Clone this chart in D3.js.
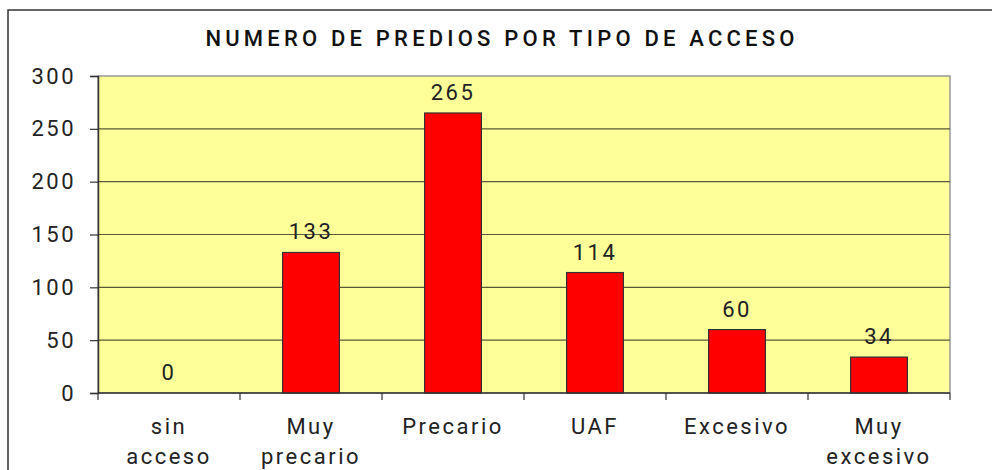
<!DOCTYPE html>
<html>
<head>
<meta charset="utf-8">
<script src="https://cdn.jsdelivr.net/npm/d3@7"></script>
<style>
  body { margin: 0; background: #fff; }
  svg { display: block; font-family: Roboto, "Liberation Sans", sans-serif; }
</style>
</head>
<body>
<svg id="chart" width="992" height="470"></svg>
<script>
var categories = [["sin", "acceso"], ["Muy", "precario"], ["Precario"], ["UAF"], ["Excesivo"], ["Muy", "excesivo"]]
var values = [0, 133, 265, 114, 60, 34]
var yTicks = [0, 50, 100, 150, 200, 250, 300]
var title = "NUMERO DE PREDIOS POR TIPO DE ACCESO"

var svg = d3.select('#chart')
var margin = { left: 98, right: 42, top: 76, bottom: 77 }
var width = 992, height = 470

// outer frame (runs off the right and bottom edges)
svg.append('rect')
    .attr('x', 8).attr('y', 10)
    .attr('width', 1000).attr('height', 500)
    .attr('fill', '#fff')
    .attr('stroke', '#333')
    .attr('stroke-width', 1.5)

var x = d3.scaleBand()
    .domain(d3.range(categories.length))
    .range([margin.left, width - margin.right])
    .paddingInner(0).paddingOuter(0)

var y = d3.scaleLinear()
    .domain([0, 300])
    .range([height - margin.bottom, margin.top])

// plot background
svg.append('rect')
    .attr('x', margin.left).attr('y', margin.top)
    .attr('width', x.range()[1] - margin.left)
    .attr('height', y(0) - margin.top)
    .attr('fill', '#ffff99')
    .attr('stroke', '#999')
    .attr('stroke-width', 1.5)

// gridlines
svg.append('g')
    .selectAll('line')
    .data(yTicks.filter(d => d > 0 && d < 300))
    .join('line')
    .attr('x1', margin.left).attr('x2', x.range()[1])
    .attr('y1', d => y(d)).attr('y2', d => y(d))
    .attr('stroke', '#5a5a3a')
    .attr('stroke-width', 1.2)

// bars
var bw = x.bandwidth() * 0.4
svg.append('g')
    .selectAll('rect')
    .data(values)
    .join('rect')
    .attr('x', (d, i) => x(i) + (x.bandwidth() - bw) / 2)
    .attr('y', d => y(d))
    .attr('width', bw)
    .attr('height', d => y(0) - y(d))
    .attr('fill', '#ff0000')
    .attr('stroke', '#333')
    .attr('stroke-width', d => d > 0 ? 1.2 : 0)

// value labels
svg.append('g')
    .selectAll('text')
    .data(values)
    .join('text')
    .attr('x', (d, i) => x(i) + x.bandwidth() / 2)
    .attr('y', d => y(d) - 13)
    .attr('text-anchor', 'middle')
    .attr('font-size', 22)
    .attr('letter-spacing', 2.5)
    .attr('fill', '#222')
    .text(d => d)

// y axis
var yAxis = svg.append('g')
    .attr('transform', 'translate(' + margin.left + ',0)')
    .call(d3.axisLeft(y).tickValues(yTicks).tickSize(8).tickPadding(14))
yAxis.select('.domain').attr('stroke', '#333').attr('stroke-width', 1.5)
yAxis.selectAll('.tick line').attr('stroke', '#333').attr('stroke-width', 1.2)
yAxis.selectAll('.tick text')
    .attr('font-size', 22)
    .attr('letter-spacing', 2.5)
    .attr('fill', '#222')
    .attr('font-family', 'Roboto, sans-serif')

// x axis line + ticks at band boundaries
var xg = svg.append('g')
xg.append('line')
    .attr('x1', margin.left).attr('x2', x.range()[1])
    .attr('y1', y(0)).attr('y2', y(0))
    .attr('stroke', '#333').attr('stroke-width', 1.5)
xg.selectAll('line.tk')
    .data(d3.range(categories.length + 1))
    .join('line')
    .attr('class', 'tk')
    .attr('x1', i => margin.left + i * x.bandwidth())
    .attr('x2', i => margin.left + i * x.bandwidth())
    .attr('y1', y(0)).attr('y2', y(0) + 7)
    .attr('stroke', '#333').attr('stroke-width', 1.2)

// category labels
xg.selectAll('text.cat')
    .data(categories)
    .join('text')
    .attr('class', 'cat')
    .attr('x', (d, i) => x(i) + x.bandwidth() / 2)
    .attr('y', y(0) + 41)
    .attr('text-anchor', 'middle')
    .attr('font-size', 22)
    .attr('letter-spacing', 2.5)
    .attr('fill', '#222')
    .each(function(d) {
        var t = d3.select(this)
        d.forEach(function(line, k) {
            t.append('tspan')
                .attr('x', t.attr('x'))
                .attr('dy', k == 0 ? 0 : 30)
                .text(line)
        })
    })

// title
svg.append('text')
    .attr('x', 502).attr('y', 46)
    .attr('text-anchor', 'middle')
    .attr('font-size', 22)
    .attr('font-weight', 500)
    .attr('letter-spacing', 4.2)
    .attr('fill', '#111')
    .text(title)
</script>
</body>
</html>
